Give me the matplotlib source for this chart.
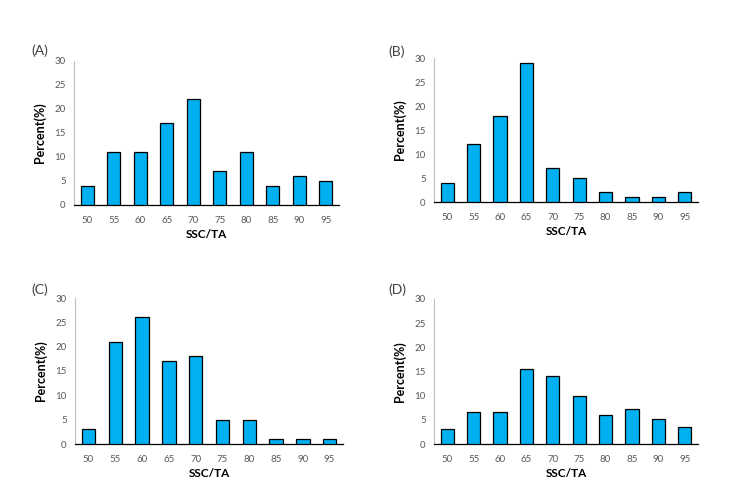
import matplotlib
matplotlib.use("Agg")
import matplotlib.pyplot as plt

categories = ["50", "55", "60", "65", "70", "75", "80", "85", "90", "95"]
values_A = [4, 11, 11, 17, 22, 7, 11, 4, 6, 5]
values_B = [4, 12, 18, 29, 7, 5, 2, 1, 1, 2]
values_C = [3, 21, 26, 17, 18, 5, 5, 1, 1, 1]
values_D = [3.2, 6.7, 6.7, 15.6, 14, 10, 6, 7.2, 5.2, 3.6]
panel_labels = ["(A)", "(B)", "(C)", "(D)"]
yticks = [0, 5, 10, 15, 20, 25, 30]

plt.rcParams['font.family'] = ['Lato', 'DejaVu Sans']

W, H = 755, 495
fig = plt.figure(figsize=(W / 100, H / 100), dpi=100)

# axes boxes in pixel coords: left, top(30), right, bottom(0)
boxes = [(74, 61, 339, 205), (434, 58, 698, 202), (75, 298, 343, 444), (434, 299, 698, 444)]
label_pos = [(40, 51), (397, 52), (40, 290), (397, 290)]
data = [values_A, values_B, values_C, values_D]

for (l, t, r, b), vals, lab, (lx, ly) in zip(boxes, data, panel_labels, label_pos):
    ax = fig.add_axes([l / W, 1 - b / H, (r - l) / W, (b - t) / H])
    x = range(len(categories))
    ax.bar(x, vals, width=0.5, color="#00B0F0", edgecolor="black", linewidth=0.9, zorder=3)
    ax.set_xlim(-0.5, len(categories) - 0.5)
    ax.set_ylim(0, 30)
    ax.set_yticks(yticks)
    ax.set_xticks(list(x))
    ax.set_xticklabels(categories)
    ax.tick_params(axis='both', length=0, labelsize=7, colors="#595959")
    ax.tick_params(axis='y', pad=6)
    ax.tick_params(axis='x', pad=8)
    for s in ["top", "right"]:
        ax.spines[s].set_visible(False)
    ax.spines["left"].set_color("#BFBFBF")
    ax.spines["left"].set_linewidth(0.8)
    ax.spines["bottom"].set_color("black")
    ax.spines["bottom"].set_linewidth(0.9)
    ax.set_xlabel("SSC/TA", fontsize=8.5, fontweight="bold", labelpad=3)
    ax.set_ylabel("Percent(%)", fontsize=9, fontweight="bold", labelpad=6)
    fig.text(lx / W, 1 - ly / H, lab, fontsize=10, color="#404040", ha="center", va="center")

fig.savefig("out.png", dpi=100)
